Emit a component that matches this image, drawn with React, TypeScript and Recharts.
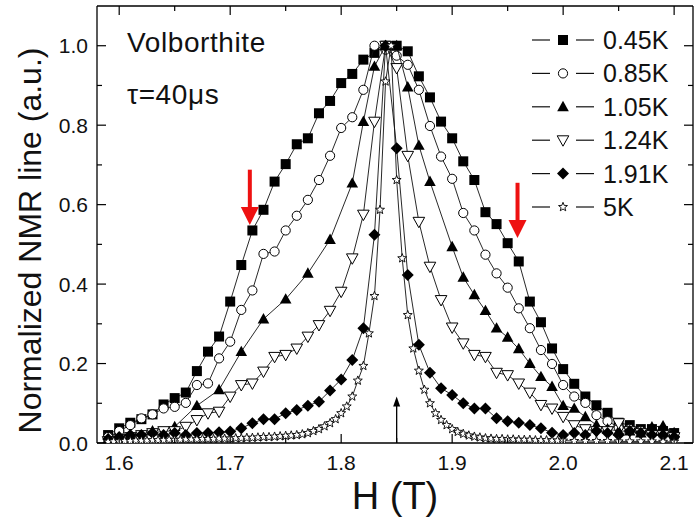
import React from "react";
import {
  ScatterChart,
  Scatter,
  XAxis,
  YAxis,
  ReferenceLine,
  ReferenceDot,
} from "recharts";

type Pt = [number, number];

// 0.45K, filled squares
const sq045: Pt[] = [
  [1.59, 0.02], [1.6, 0.037], [1.61, 0.051], [1.62, 0.06], [1.63, 0.072],
  [1.64, 0.097], [1.65, 0.113], [1.66, 0.127], [1.67, 0.181], [1.68, 0.23],
  [1.69, 0.268], [1.7, 0.356], [1.71, 0.448], [1.72, 0.535], [1.73, 0.587],
  [1.74, 0.658], [1.75, 0.702], [1.76, 0.752], [1.77, 0.767], [1.78, 0.83],
  [1.79, 0.861], [1.8, 0.906], [1.81, 0.929], [1.82, 0.965], [1.83, 0.982],
  [1.84, 1.0], [1.85, 1.0], [1.86, 0.986], [1.87, 0.923], [1.88, 0.87],
  [1.89, 0.809], [1.9, 0.767], [1.91, 0.709], [1.92, 0.662], [1.93, 0.581],
  [1.94, 0.551], [1.95, 0.503], [1.96, 0.457], [1.97, 0.356], [1.98, 0.304],
  [1.99, 0.238], [2.0, 0.186], [2.01, 0.149], [2.02, 0.117], [2.03, 0.095],
  [2.04, 0.076], [2.05, 0.051], [2.06, 0.045], [2.07, 0.035], [2.08, 0.035],
  [2.09, 0.03], [2.1, 0.025],
];

// 0.85K, open circles
const ci085: Pt[] = [
  [1.59, 0.015], [1.6, 0.03], [1.61, 0.045], [1.62, 0.062], [1.63, 0.072],
  [1.64, 0.087], [1.65, 0.091], [1.66, 0.101], [1.67, 0.146], [1.68, 0.15],
  [1.69, 0.213], [1.7, 0.255], [1.71, 0.335], [1.72, 0.384], [1.73, 0.476],
  [1.74, 0.482], [1.75, 0.535], [1.76, 0.572], [1.77, 0.612], [1.78, 0.662],
  [1.79, 0.723], [1.8, 0.793], [1.81, 0.82], [1.82, 0.889], [1.83, 1.0],
  [1.84, 0.99], [1.85, 0.975], [1.86, 0.952], [1.87, 0.889], [1.88, 0.798],
  [1.89, 0.721], [1.9, 0.665], [1.91, 0.579], [1.92, 0.535], [1.93, 0.474],
  [1.94, 0.427], [1.95, 0.391], [1.96, 0.339], [1.97, 0.289], [1.98, 0.234],
  [1.99, 0.199], [2.0, 0.146], [2.01, 0.117], [2.02, 0.101], [2.03, 0.07],
  [2.04, 0.055], [2.05, 0.04], [2.06, 0.035], [2.07, 0.03], [2.08, 0.025],
  [2.09, 0.02], [2.1, 0.015],
];

// 1.05K, filled up-triangles
const tu105: Pt[] = [
  [1.59, 0.01], [1.61, 0.02], [1.63, 0.03], [1.65, 0.041], [1.67, 0.094],
  [1.69, 0.134], [1.71, 0.23], [1.73, 0.312], [1.75, 0.362], [1.77, 0.427],
  [1.79, 0.512], [1.81, 0.654], [1.82, 0.809], [1.83, 0.948], [1.84, 1.0],
  [1.85, 1.0], [1.86, 0.896], [1.87, 0.749], [1.88, 0.658], [1.9, 0.494],
  [1.91, 0.417], [1.92, 0.373], [1.93, 0.333], [1.94, 0.289], [1.95, 0.266],
  [1.96, 0.237], [1.97, 0.2], [1.98, 0.167], [1.99, 0.142], [2.0, 0.094],
  [2.01, 0.087], [2.02, 0.066], [2.03, 0.045], [2.04, 0.035], [2.05, 0.03],
  [2.06, 0.03], [2.07, 0.025], [2.08, 0.04], [2.09, 0.043], [2.1, 0.026],
];

// 1.24K, open down-triangles
const td124: Pt[] = [
  [1.59, 0.005], [1.6, 0.01], [1.61, 0.015], [1.62, 0.02], [1.63, 0.025],
  [1.64, 0.03], [1.65, 0.03], [1.66, 0.041], [1.67, 0.058], [1.68, 0.075],
  [1.69, 0.079], [1.7, 0.117], [1.71, 0.146], [1.72, 0.15], [1.73, 0.18],
  [1.74, 0.217], [1.75, 0.222], [1.76, 0.238], [1.77, 0.268], [1.78, 0.297],
  [1.79, 0.333], [1.8, 0.381], [1.81, 0.465], [1.82, 0.575], [1.83, 0.809],
  [1.84, 1.0], [1.85, 0.944], [1.86, 0.723], [1.87, 0.557], [1.88, 0.444],
  [1.89, 0.36], [1.9, 0.291], [1.91, 0.251], [1.92, 0.222], [1.93, 0.217],
  [1.94, 0.177], [1.95, 0.171], [1.96, 0.15], [1.97, 0.127], [1.98, 0.096],
  [1.99, 0.087], [2.0, 0.066], [2.01, 0.045], [2.02, 0.035], [2.03, 0.03],
  [2.04, 0.03], [2.05, 0.05], [2.06, 0.03], [2.07, 0.025], [2.08, 0.02],
  [2.09, 0.02], [2.1, 0.015],
];

// 1.91K, filled diamonds
const di191: Pt[] = [
  [1.59, 0.01], [1.6, 0.015], [1.61, 0.02], [1.62, 0.02], [1.63, 0.025],
  [1.64, 0.02], [1.65, 0.025], [1.66, 0.02], [1.67, 0.025], [1.68, 0.025],
  [1.69, 0.027], [1.7, 0.029], [1.71, 0.037], [1.72, 0.05], [1.73, 0.06],
  [1.74, 0.06], [1.75, 0.075], [1.76, 0.083], [1.77, 0.094], [1.78, 0.104],
  [1.79, 0.132], [1.8, 0.16], [1.81, 0.209], [1.82, 0.289], [1.83, 0.524],
  [1.84, 1.0], [1.85, 0.742], [1.86, 0.423], [1.87, 0.247], [1.88, 0.177],
  [1.89, 0.138], [1.9, 0.121], [1.91, 0.1], [1.92, 0.087], [1.93, 0.087],
  [1.94, 0.062], [1.95, 0.055], [1.96, 0.051], [1.97, 0.045], [1.98, 0.037],
  [1.99, 0.026], [2.0, 0.02], [2.01, 0.025], [2.02, 0.02], [2.03, 0.03],
  [2.04, 0.025], [2.05, 0.02], [2.06, 0.03], [2.07, 0.025], [2.08, 0.02],
  [2.09, 0.02], [2.1, 0.015],
];

// 5K, open stars
const st5: Pt[] = [
  [1.59, 0.003], [1.595, 0.004], [1.6, 0.004], [1.605, 0.005], [1.61, 0.005],
  [1.615, 0.006], [1.62, 0.006], [1.625, 0.006], [1.63, 0.007], [1.635, 0.007],
  [1.64, 0.007], [1.645, 0.008], [1.65, 0.008], [1.655, 0.008], [1.66, 0.009],
  [1.665, 0.009], [1.67, 0.009], [1.675, 0.01], [1.68, 0.01], [1.685, 0.01],
  [1.69, 0.011], [1.695, 0.011], [1.7, 0.011], [1.705, 0.012], [1.71, 0.012],
  [1.715, 0.013], [1.72, 0.013], [1.725, 0.014], [1.73, 0.015], [1.735, 0.015],
  [1.74, 0.016], [1.745, 0.017], [1.75, 0.018], [1.755, 0.019], [1.76, 0.02],
  [1.765, 0.022], [1.77, 0.025], [1.775, 0.03], [1.78, 0.035], [1.785, 0.042],
  [1.79, 0.05], [1.795, 0.06], [1.8, 0.075], [1.805, 0.092], [1.81, 0.117],
  [1.815, 0.157], [1.82, 0.194], [1.825, 0.276], [1.83, 0.37], [1.835, 0.587],
  [1.84, 0.91], [1.845, 1.0], [1.85, 0.662], [1.855, 0.465], [1.86, 0.322],
  [1.865, 0.238], [1.87, 0.182], [1.875, 0.134], [1.88, 0.1], [1.885, 0.075],
  [1.89, 0.058], [1.895, 0.045], [1.9, 0.035], [1.905, 0.028], [1.91, 0.023],
  [1.915, 0.019], [1.92, 0.016], [1.925, 0.014], [1.93, 0.012], [1.935, 0.011],
  [1.94, 0.01], [1.945, 0.01], [1.95, 0.009], [1.955, 0.009], [1.96, 0.008],
  [1.965, 0.008], [1.97, 0.008], [1.975, 0.007], [1.98, 0.007], [1.985, 0.007],
  [1.99, 0.006], [1.995, 0.006], [2.0, 0.006], [2.01, 0.005], [2.02, 0.005],
  [2.03, 0.005], [2.04, 0.005], [2.05, 0.004], [2.06, 0.004], [2.07, 0.004],
  [2.08, 0.004], [2.09, 0.003], [2.1, 0.003],
];

const xTicks = [1.6, 1.65, 1.7, 1.75, 1.8, 1.85, 1.9, 1.95, 2.0, 2.05, 2.1];
const xMajor = [1.6, 1.7, 1.8, 1.9, 2.0, 2.1];
const yTicks = [0, 0.1, 0.2, 0.3, 0.4, 0.5, 0.6, 0.7, 0.8, 0.9, 1.0];
const yMajor = [0, 0.2, 0.4, 0.6, 0.8, 1.0];

// red arrows: x, tip, base of head, top of shaft
const redArrows = [
  { x: 1.7177, tip: 0.549, base: 0.592, top: 0.688 },
  { x: 1.9589, tip: 0.516, base: 0.559, top: 0.655 },
];
const fieldMark = { x: 1.85, tip: 0.117, base: 0.095, bottom: 0 };

type Kind = "square" | "circle" | "triUp" | "triDown" | "diamond" | "star";

const seriesList: { name: string; kind: Kind; data: Pt[] }[] = [
  { name: "0.45K", kind: "square", data: sq045 },
  { name: "0.85K", kind: "circle", data: ci085 },
  { name: "1.05K", kind: "triUp", data: tu105 },
  { name: "1.24K", kind: "triDown", data: td124 },
  { name: "1.91K", kind: "diamond", data: di191 },
  { name: "5K", kind: "star", data: st5 },
];

const FONT = "'Liberation Sans', Arial, Helvetica, sans-serif";
const INK = "#000";

const starPoints = (cx: number, cy: number, R: number, r: number) => {
  const pts: string[] = [];
  for (let i = 0; i < 10; i++) {
    const rad = i % 2 === 0 ? R : r;
    const a = -Math.PI / 2 + (i * Math.PI) / 5;
    pts.push(`${cx + rad * Math.cos(a)},${cy + rad * Math.sin(a)}`);
  }
  return pts.join(" ");
};

const Marker = ({ kind, cx, cy }: { kind: Kind; cx: number; cy: number }) => {
  switch (kind) {
    case "square":
      return <rect x={cx - 5} y={cy - 5} width={10} height={10} fill={INK} />;
    case "circle":
      return <circle cx={cx} cy={cy} r={4.6} fill="#fff" stroke={INK} strokeWidth={1} />;
    case "triUp":
      return (
        <polygon
          points={`${cx},${cy - 6} ${cx + 5.8},${cy + 4.4} ${cx - 5.8},${cy + 4.4}`}
          fill={INK}
        />
      );
    case "triDown":
      return (
        <polygon
          points={`${cx},${cy + 6} ${cx + 5.8},${cy - 4.4} ${cx - 5.8},${cy - 4.4}`}
          fill="#fff"
          stroke={INK}
          strokeWidth={1}
        />
      );
    case "diamond":
      return (
        <polygon
          points={`${cx},${cy - 6} ${cx + 6},${cy} ${cx},${cy + 6} ${cx - 6},${cy}`}
          fill={INK}
        />
      );
    default:
      return (
        <polygon points={starPoints(cx, cy, 4.7, 2)} fill="#fff" stroke={INK} strokeWidth={0.9} />
      );
  }
};

const isMajor = (list: number[], v: number) => list.some((m) => Math.abs(m - v) < 1e-9);

const BottomTick = (props: any) => {
  const { x, y, payload } = props;
  const major = isMajor(xMajor, payload.value);
  return (
    <g>
      <line x1={x} y1={y} x2={x} y2={y - (major ? 9 : 5)} stroke={INK} strokeWidth={1.2} />
      {major && (
        <text x={x} y={y + 27} textAnchor="middle" fontSize={21} fontFamily={FONT} fill="#111">
          {payload.value.toFixed(1)}
        </text>
      )}
    </g>
  );
};

const TopTick = (props: any) => {
  const { x, y, payload } = props;
  const major = isMajor(xMajor, payload.value);
  return <line x1={x} y1={y} x2={x} y2={y + (major ? 9 : 5)} stroke={INK} strokeWidth={1.2} />;
};

const LeftTick = (props: any) => {
  const { x, y, payload } = props;
  const major = isMajor(yMajor, payload.value);
  return (
    <g>
      <line x1={x} y1={y} x2={x + (major ? 9 : 5)} y2={y} stroke={INK} strokeWidth={1.2} />
      {major && (
        <text x={x - 9} y={y + 7.5} textAnchor="end" fontSize={21} fontFamily={FONT} fill="#111">
          {payload.value.toFixed(1)}
        </text>
      )}
    </g>
  );
};

const RightTick = (props: any) => {
  const { x, y, payload } = props;
  const major = isMajor(yMajor, payload.value);
  return <line x1={x} y1={y} x2={x - (major ? 9 : 5)} y2={y} stroke={INK} strokeWidth={1.2} />;
};

const YTitle = (props: any) => {
  const { viewBox } = props;
  const cx = viewBox.x + 30;
  const cy = viewBox.y + viewBox.height / 2 + 16;
  return (
    <text
      x={cx}
      y={cy}
      transform={`rotate(-90 ${cx} ${cy})`}
      textAnchor="middle"
      dominantBaseline="central"
      fontSize={32}
      fontFamily={FONT}
      fill="#111"
    >
      Normalized NMR line (a.u.)
    </text>
  );
};

const XTitle = (props: any) => {
  const { viewBox } = props;
  const cx = viewBox.x + viewBox.width / 2;
  return (
    <text x={cx} y={viewBox.y + 66} textAnchor="middle" fontSize={38} fontFamily={FONT} fill="#111">
      H (T)
    </text>
  );
};

const App: React.FC = () => {
  return (
    <div style={{ position: "absolute", left: 0, top: 0, width: 696, height: 518, background: "#fff" }}>
      <ScatterChart width={696} height={518} margin={{ top: 5, right: 2, bottom: 0, left: 0 }}>
        <XAxis
          xAxisId="b"
          type="number"
          dataKey="x"
          domain={[1.58, 2.117]}
          allowDataOverflow
          ticks={xTicks}
          interval={0}
          height={75}
          tickSize={0}
          tickMargin={0}
          tickLine={false}
          tick={<BottomTick />}
          axisLine={{ stroke: INK, strokeWidth: 1.3 }}
          label={<XTitle />}
        />
        <XAxis
          xAxisId="t"
          orientation="top"
          type="number"
          dataKey="x"
          domain={[1.58, 2.117]}
          allowDataOverflow
          ticks={xTicks}
          interval={0}
          height={1}
          tickSize={0}
          tickMargin={0}
          tickLine={false}
          tick={<TopTick />}
          axisLine={{ stroke: INK, strokeWidth: 1.3 }}
        />
        <YAxis
          yAxisId="l"
          type="number"
          dataKey="y"
          domain={[0, 1.1]}
          allowDataOverflow
          ticks={yTicks}
          interval={0}
          width={97}
          tickSize={0}
          tickMargin={0}
          tickLine={false}
          tick={<LeftTick />}
          axisLine={{ stroke: INK, strokeWidth: 1.3 }}
          label={<YTitle />}
        />
        <YAxis
          yAxisId="r"
          orientation="right"
          type="number"
          dataKey="y"
          domain={[0, 1.1]}
          allowDataOverflow
          ticks={yTicks}
          interval={0}
          width={1}
          tickSize={0}
          tickMargin={0}
          tickLine={false}
          tick={<RightTick />}
          axisLine={{ stroke: INK, strokeWidth: 1.3 }}
        />

        {seriesList.map((s) => (
          <Scatter
            key={s.name}
            name={s.name}
            xAxisId="b"
            yAxisId="l"
            data={s.data.map(([x, y]) => ({ x, y }))}
            line={{ stroke: "#111", strokeWidth: 0.9 }}
            lineType="joint"
            isAnimationActive={false}
            shape={(p: any) => <Marker kind={s.kind} cx={p.cx} cy={p.cy} />}
          />
        ))}

        {redArrows.map((a, i) => (
          <ReferenceLine
            key={`shaft${i}`}
            xAxisId="b"
            yAxisId="l"
            segment={[
              { x: a.x, y: a.top },
              { x: a.x, y: a.base },
            ]}
            stroke="#ee1111"
            strokeWidth={4}
          />
        ))}
        {redArrows.map((a, i) => (
          <ReferenceDot
            key={`head${i}`}
            xAxisId="b"
            yAxisId="l"
            x={a.x}
            y={a.tip}
            shape={(p: any) => (
              <polygon
                points={`${p.cx},${p.cy} ${p.cx - 9},${p.cy - 18} ${p.cx + 9},${p.cy - 18}`}
                fill="#ee1111"
              />
            )}
          />
        ))}
        <ReferenceLine
          xAxisId="b"
          yAxisId="l"
          segment={[
            { x: fieldMark.x, y: fieldMark.bottom },
            { x: fieldMark.x, y: fieldMark.base },
          ]}
          stroke={INK}
          strokeWidth={1.3}
        />
        <ReferenceDot
          xAxisId="b"
          yAxisId="l"
          x={fieldMark.x}
          y={fieldMark.tip}
          shape={(p: any) => (
            <polygon
              points={`${p.cx},${p.cy} ${p.cx - 3.5},${p.cy + 10} ${p.cx + 3.5},${p.cy + 10}`}
              fill={INK}
            />
          )}
        />
      </ScatterChart>

      <svg
        width={696}
        height={518}
        style={{ position: "absolute", left: 0, top: 0, pointerEvents: "none" }}
      >
        <text x={127} y={52} fontSize={28} fontFamily={FONT} fill="#111" letterSpacing={0.6}>
          Volborthite
        </text>
        <text x={127} y={104} fontSize={28} fontFamily={FONT} fill="#111" letterSpacing={0.6}>
          τ=40μs
        </text>
        {seriesList.map((s, i) => {
          const cy = 40 + i * 33.4;
          return (
            <g key={s.name}>
              <line x1={532} y1={cy} x2={550} y2={cy} stroke="#111" strokeWidth={1.2} />
              <line x1={576} y1={cy} x2={594} y2={cy} stroke="#111" strokeWidth={1.2} />
              <Marker kind={s.kind} cx={563} cy={cy} />
              <text x={603} y={cy + 9} fontSize={25} fontFamily={FONT} fill="#111">
                {s.name}
              </text>
            </g>
          );
        })}
      </svg>
    </div>
  );
};

export default App;
